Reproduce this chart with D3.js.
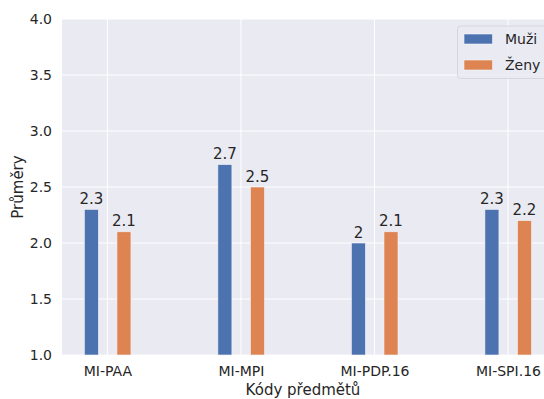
<!DOCTYPE html>
<html><head><meta charset="utf-8">
<script src="https://cdn.jsdelivr.net/npm/d3@7"></script>
<style>body{margin:0;background:#fff}svg{display:block}text{font-family:"DejaVu Sans",sans-serif;fill:#262626}</style>
</head><body>
<script>
const categories = ["MI-PAA","MI-MPI","MI-PDP.16","MI-SPI.16"];
const muzi = [2.3, 2.7, 2, 2.3];
const zeny = [2.1, 2.5, 2.1, 2.2];
const seriesNames = ["Muži","Ženy"];
const yTicks = [1.0,1.5,2.0,2.5,3.0,3.5,4.0];

const W=544,H=399;
const m={l:62,r:0,t:19,b:44};
const svg=d3.select("body").append("svg").attr("width",W).attr("height",H);
const x=d3.scaleLinear().domain([-0.34,3.27]).range([m.l,W-m.r]);
const y=d3.scaleLinear().domain([1,4]).range([H-m.b,m.t]);
const colors=["#4C72B0","#DD8452"];
svg.append("rect").attr("x",m.l).attr("y",m.t).attr("width",W-m.r-m.l).attr("height",H-m.b-m.t).attr("fill","#EAEAF2");
const g=svg.append("g");
g.selectAll(".hg").data(yTicks).join("line").attr("x1",m.l).attr("x2",W-m.r).attr("y1",d=>y(d)).attr("y2",d=>y(d)).attr("stroke","#fff").attr("stroke-width",1);
g.selectAll(".vg").data(categories).join("line").attr("x1",(d,i)=>x(i)).attr("x2",(d,i)=>x(i)).attr("y1",m.t).attr("y2",H-m.b).attr("stroke","#fff").attr("stroke-width",1);

const off=[-0.12,0.124], bw=0.105;
[muzi,zeny].forEach((s,k)=>{
  svg.selectAll(".b"+k).data(s).join("rect")
    .attr("x",(d,i)=>x(i+off[k]-bw/2)).attr("width",x(bw)-x(0))
    .attr("y",d=>y(d)).attr("height",d=>y(1)-y(d))
    .attr("fill",colors[k]).attr("stroke","#f4f4f8").attr("stroke-width",0.6);
  svg.selectAll(".t"+k).data(s).join("text")
    .attr("x",(d,i)=>x(i+off[k])).attr("y",d=>y(d)-5.5)
    .attr("text-anchor","middle").attr("font-size",15).text(d=>String(d));
});

// axes
const ya=d3.axisLeft(y).tickValues(yTicks).tickFormat(d3.format(".1f")).tickSize(0).tickPadding(10);
const yg=svg.append("g").attr("transform",`translate(${m.l},0)`).call(ya);
yg.select(".domain").remove();
yg.selectAll("text").attr("font-size",14).attr("fill","#262626").style("font-family","DejaVu Sans");
const xa=d3.axisBottom(x).tickValues([0,1,2,3]).tickFormat(i=>categories[i]).tickSize(0).tickPadding(11);
const xg=svg.append("g").attr("transform",`translate(0,${H-m.b})`).call(xa);
xg.select(".domain").remove();
xg.selectAll("text").attr("font-size",14).attr("fill","#262626").style("font-family","DejaVu Sans");

svg.append("text").attr("x",(m.l+W-m.r)/2).attr("y",395).attr("text-anchor","middle").attr("font-size",15).text("Kódy předmětů");
svg.append("text").attr("transform",`translate(23,${(m.t+H-m.b)/2}) rotate(-90)`).attr("text-anchor","middle").attr("font-size",15).text("Průměry");

// legend
const lg=svg.append("g");
lg.append("rect").attr("x",457.5).attr("y",26).attr("width",90).attr("height",52.5).attr("rx",3).attr("fill","#EAEAF2").attr("fill-opacity",0.8).attr("stroke","#d6d6dc").attr("stroke-width",1);
seriesNames.forEach((n,k)=>{
  lg.append("rect").attr("x",464).attr("y",34+k*26).attr("width",28.5).attr("height",10).attr("fill",colors[k]).attr("stroke","#f4f4f8").attr("stroke-width",0.6);
  lg.append("text").attr("x",505).attr("y",43.8+k*26).attr("font-size",14).text(n);
});
</script>
</body></html>
